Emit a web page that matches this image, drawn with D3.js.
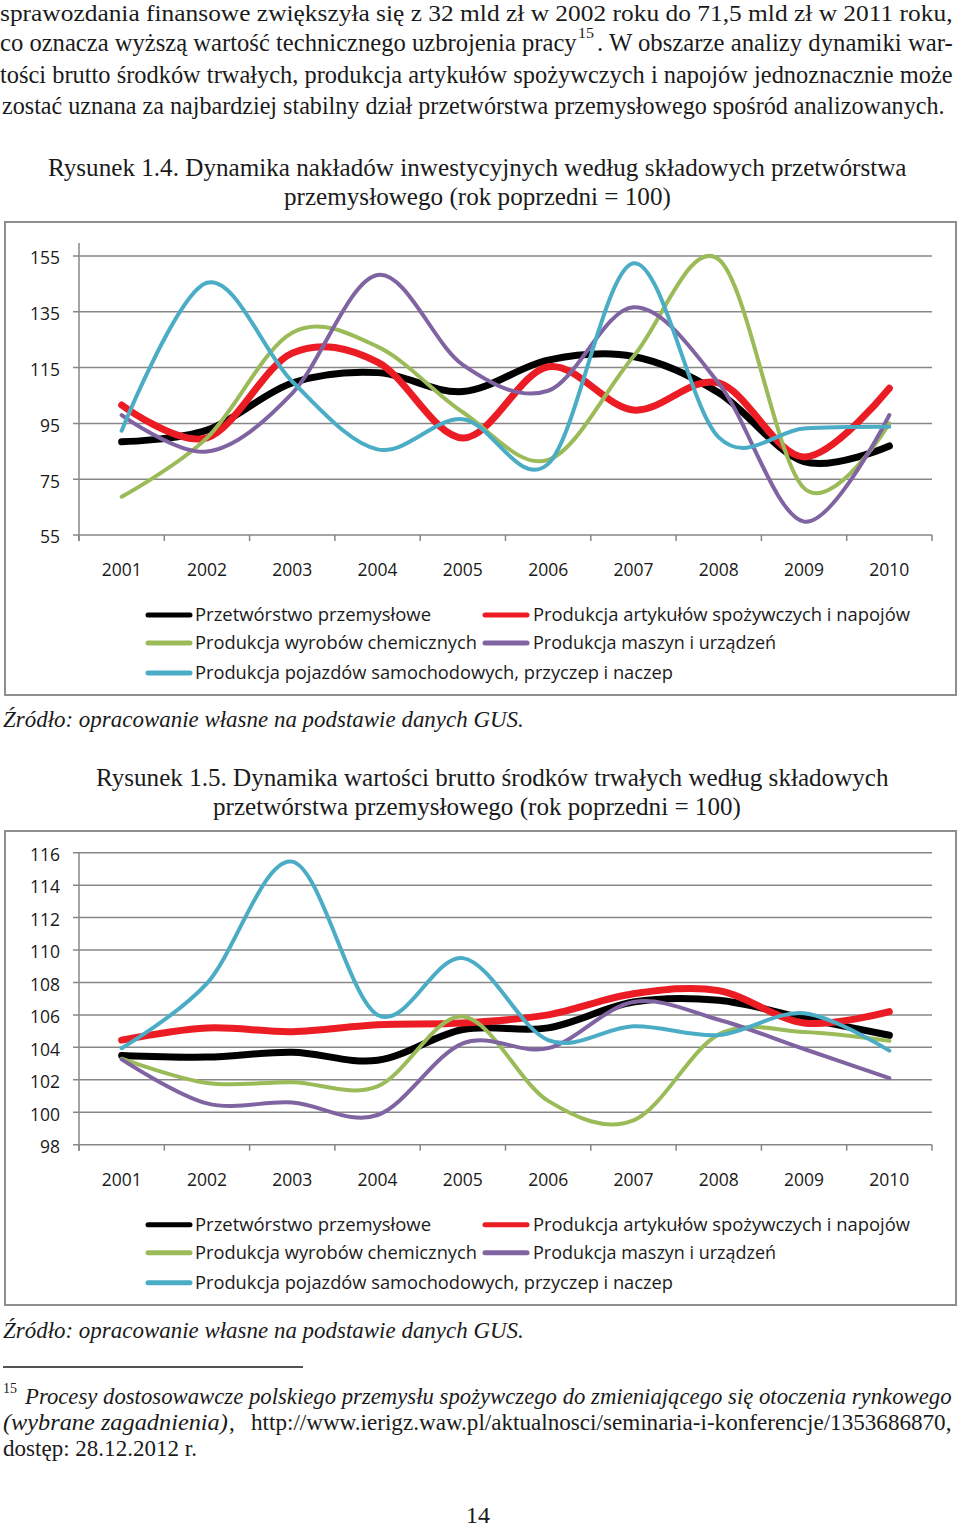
<!DOCTYPE html>
<html><head><meta charset="utf-8">
<script src="https://cdn.jsdelivr.net/npm/d3@7"></script>
<style>
html,body{margin:0;padding:0;background:#fff;}
svg{display:block;}
</style></head>
<body>
<svg id="page" width="960" height="1528"></svg>
<script>
// ---------- DATA ----------
const years = ["2001","2002","2003","2004","2005","2006","2007","2008","2009","2010"];
const seriesNames = [
  "Przetwórstwo przemysłowe",
  "Produkcja artykułów spożywczych i napojów",
  "Produkcja wyrobów chemicznych",
  "Produkcja maszyn i urządzeń",
  "Produkcja pojazdów samochodowych, przyczep i naczep"
];
// Rysunek 1.4 – nakłady inwestycyjne
const inv_przetworstwo = [88.4, 92.6, 109.5, 113.2, 106.4, 117.7, 119.0, 106.0, 81.3, 86.9];
const inv_spozywcze    = [101.6, 89.8, 120.2, 117.0, 89.8, 115.3, 99.8, 109.5, 83.0, 107.6];
const inv_chemiczne    = [68.7, 89.8, 127.5, 122.5, 99.0, 81.9, 119.0, 153.8, 71.8, 95.0];
const inv_maszyny      = [98.0, 84.9, 105.8, 148.2, 116.0, 106.7, 136.6, 109.4, 59.8, 98.0];
const inv_pojazdy      = [92.4, 145.4, 110.0, 85.7, 96.5, 80.5, 152.4, 90.0, 93.2, 93.8];
const inv_ticks = [55, 75, 95, 115, 135, 155];
// Rysunek 1.5 – wartość brutto środków trwałych
const fa_przetworstwo = [103.5, 103.4, 103.7, 103.2, 105.1, 105.2, 106.8, 106.9, 105.8, 104.75];
const fa_spozywcze    = [104.45, 105.2, 104.97, 105.4, 105.5, 106.0, 107.3, 107.5, 105.5, 106.2];
const fa_chemiczne    = [103.3, 101.8, 101.85, 101.6, 105.9, 100.7, 99.5, 104.8, 104.95, 104.4];
const fa_maszyny      = [103.26, 100.55, 100.6, 99.83, 104.25, 103.95, 106.8, 105.7, 103.9, 102.1];
const fa_pojazdy      = [103.95, 107.95, 115.45, 106.0, 109.5, 104.45, 105.3, 104.76, 106.1, 103.8];
const fa_ticks = [98, 100, 102, 104, 106, 108, 110, 112, 114, 116];

const colors = ["#000000", "#ec1c24", "#9bbb59", "#8064a2", "#4bacc6"];
const widths = [7, 7, 4, 4, 4];

const svg = d3.select("#page");
const serif = "'Liberation Serif','Times New Roman',Times,serif";
const sans = "'Open Sans','Noto Sans',sans-serif";
const ink = "#1a1a1a";

// text squeezed horizontally to a target width (like the condensed scan)
function fit(s, x, y, width, opts) {
  const o = Object.assign({size: 24.5, family: serif, italic: false}, opts || {});
  const g = svg.append("g");
  const t = g.append("text").attr("x", 0).attr("y", 0)
    .attr("font-family", o.family).attr("font-size", o.size).attr("fill", ink)
    .attr("font-style", o.italic ? "italic" : "normal").text(s);
  const w = t.node().getComputedTextLength();
  const sx = width ? width / w : 1;
  g.attr("transform", `translate(${x},${y}) scale(${sx},1)`);
  return g;
}

fit("sprawozdania finansowe zwiększyła się z 32 mld zł w 2002 roku do 71,5 mld zł w 2011 roku,", 0, 21, 953, {size: 23.5});
fit("co oznacza wyższą wartość technicznego uzbrojenia pracy", 0, 51, 577);
fit("15", 578, 38, 16, {size: 15});
fit(". W obszarze analizy dynamiki war-", 597, 51, 356);
fit("tości brutto środków trwałych, produkcja artykułów spożywczych i napojów jednoznacznie może", 0, 83, 953);
fit("zostać uznana za najbardziej stabilny dział przetwórstwa przemysłowego spośród analizowanych.", 2, 114, 943);

fit("Rysunek 1.4. Dynamika nakładów inwestycyjnych według składowych przetwórstwa", 48, 176, 859, {size: 25});
fit("przemysłowego (rok poprzedni = 100)", 284, 205, 387, {size: 25});
fit("Źródło: opracowanie własne na podstawie danych GUS.", 3, 727, 521, {italic: true, size: 23});
fit("Rysunek 1.5. Dynamika wartości brutto środków trwałych według składowych", 96, 786, 793, {size: 25});
fit("przetwórstwa przemysłowego (rok poprzedni = 100)", 213, 815, 528, {size: 25});
fit("Źródło: opracowanie własne na podstawie danych GUS.", 3, 1338, 521, {italic: true, size: 23});

svg.append("line").attr("x1", 3).attr("x2", 303).attr("y1", 1367).attr("y2", 1367)
  .attr("stroke", ink).attr("stroke-width", 1.5);
fit("15", 3, 1393, 14, {size: 14});
fit("Procesy dostosowawcze polskiego przemysłu spożywczego do zmieniającego się otoczenia rynkowego", 25, 1404, 927, {italic: true, size: 23});
fit("(wybrane  zagadnienia)", 3, 1430, 225, {italic: true, size: 23});
fit(",", 229, 1430, null, {size: 23});
fit("http://www.ierigz.waw.pl/aktualnosci/seminaria-i-konferencje/1353686870,", 251, 1430, 701, {size: 23});
fit("dostęp: 28.12.2012 r.", 3, 1456, 194, {size: 23});
fit("14", 466, 1523, 24, {size: 23});

// ---------- charts ----------
function chart(cfg) {
  const g = svg.append("g");
  g.append("rect").attr("x", cfg.box[0]).attr("y", cfg.box[1])
    .attr("width", cfg.box[2]).attr("height", cfg.box[3])
    .attr("fill", "#fff").attr("stroke", "#8e8e8e").attr("stroke-width", 2);

  const x = d3.scaleBand().domain(years).range([79, 932]);
  const y = d3.scaleLinear().domain(cfg.domain).range(cfg.yRange);
  const grid = "#878787";

  g.selectAll(".grid").data(cfg.ticks).enter().append("line")
    .attr("x1", 73).attr("x2", 932)
    .attr("y1", d => y(d)).attr("y2", d => y(d))
    .attr("stroke", grid).attr("stroke-width", 1.5);
  g.append("line").attr("x1", 79).attr("x2", 79)
    .attr("y1", y(cfg.domain[1]) - cfg.axisExtra).attr("y2", y(cfg.domain[0]) + 6)
    .attr("stroke", grid).attr("stroke-width", 1.5);
  const bounds = years.map(d => x(d)).concat([x.range()[1]]);
  g.selectAll(".xt").data(bounds).enter().append("line")
    .attr("x1", d => d).attr("x2", d => d)
    .attr("y1", y(cfg.domain[0])).attr("y2", y(cfg.domain[0]) + 6)
    .attr("stroke", grid).attr("stroke-width", 1.5);

  g.selectAll(".yl").data(cfg.ticks).enter().append("text")
    .attr("x", 60).attr("y", d => y(d) + 2).attr("dy", "0.36em")
    .attr("text-anchor", "end").attr("font-family", sans).attr("font-size", 17.5)
    .attr("fill", ink).text(d => d);
  g.selectAll(".xl").data(years).enter().append("text")
    .attr("x", d => x(d) + x.bandwidth() / 2).attr("y", y(cfg.domain[0]) + 41)
    .attr("text-anchor", "middle").attr("font-family", sans).attr("font-size", 17.5)
    .attr("fill", ink).text(d => d);

  const line = d3.line()
    .x((d, i) => x(years[i]) + x.bandwidth() / 2)
    .y(d => y(d))
    .curve(d3.curveCardinal.tension(0));
  cfg.series.forEach((s, i) => {
    g.append("path").attr("d", line(s)).attr("fill", "none")
      .attr("stroke", colors[i]).attr("stroke-width", widths[i])
      .attr("stroke-linecap", "round").attr("stroke-linejoin", "round");
  });

  const base = y(cfg.domain[0]);
  const leg = [
    {i: 0, sx: 148, tx: 195, dy: 80, len: 236},
    {i: 1, sx: 485, tx: 533, dy: 80, len: 377},
    {i: 2, sx: 148, tx: 195, dy: 108, len: 282},
    {i: 3, sx: 485, tx: 533, dy: 108, len: 243},
    {i: 4, sx: 148, tx: 195, dy: 138, len: 478}
  ];
  leg.forEach(l => {
    g.append("line").attr("x1", l.sx).attr("x2", l.sx + 42)
      .attr("y1", base + l.dy).attr("y2", base + l.dy)
      .attr("stroke", colors[l.i]).attr("stroke-width", 5).attr("stroke-linecap", "round");
    g.append("text").attr("x", l.tx).attr("y", base + l.dy).attr("dy", "0.35em")
      .attr("font-family", sans).attr("font-size", 17.5).attr("fill", ink)
      .attr("textLength", l.len).attr("lengthAdjust", "spacingAndGlyphs")
      .text(seriesNames[l.i]);
  });
}

chart({
  box: [5, 222, 951, 473],
  domain: [55, 155], yRange: [535, 256], ticks: inv_ticks, axisExtra: 13,
  series: [inv_przetworstwo, inv_spozywcze, inv_chemiczne, inv_maszyny, inv_pojazdy]
});
chart({
  box: [5, 831, 951, 474],
  domain: [98, 116], yRange: [1144.7, 852.7], ticks: fa_ticks, axisExtra: 0,
  series: [fa_przetworstwo, fa_spozywcze, fa_chemiczne, fa_maszyny, fa_pojazdy]
});
</script>
</body></html>
